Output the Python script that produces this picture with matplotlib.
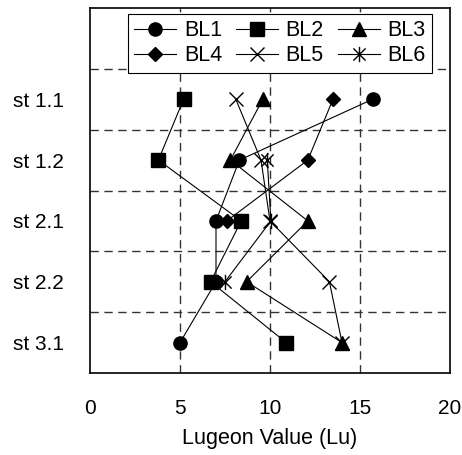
import numpy as np
import matplotlib
matplotlib.use("Agg")
import matplotlib.pyplot as plt
from matplotlib.path import Path

plt.rcParams['font.family'] = ['Liberation Sans', 'DejaVu Sans']

# stages, top to bottom
stages = ["st 1.1", "st 1.2", "st 2.1", "st 2.2", "st 3.1"]
bl1 = [15.7, 8.3, 7.0, 7.0, 5.0]
bl2 = [5.2, 3.8, 8.4, 6.7, 10.9]
bl3 = [9.6, 7.8, 12.1, 8.7, 14.0]
bl4 = [13.5, 12.1, 7.6, np.nan, np.nan]
bl5 = [8.1, 9.5, 10.0, 13.3, 14.0]
bl6 = [np.nan, 9.85, 10.05, 7.5, np.nan]
names = ["BL1", "BL2", "BL3", "BL4", "BL5", "BL6"]
x_ticks = [0, 5, 10, 15, 20]

# asterisk: X plus a vertical bar
star = Path([(-1, -1), (1, 1), (-1, 1), (1, -1), (0, -1.25), (0, 1.25)],
            [Path.MOVETO, Path.LINETO, Path.MOVETO, Path.LINETO, Path.MOVETO, Path.LINETO])

styles = [
    dict(marker="o", ms=9.5),
    dict(marker="s", ms=9.5),
    dict(marker="^", ms=10.5),
    dict(marker="D", ms=7.5),
    dict(marker="x", ms=10, mew=1.0),
    dict(marker=star, ms=11, mew=1.0),
]

fig = plt.figure(figsize=(4.62, 4.55), dpi=100)
ax = fig.add_axes([90 / 462, 1 - 373 / 455, 360 / 462, 365 / 455])

y = np.arange(1, len(stages) + 1)
handles = []
for name, vals, st in zip(names, [bl1, bl2, bl3, bl4, bl5, bl6], styles):
    vals = np.array(vals, dtype=float)
    m = ~np.isnan(vals)
    h, = ax.plot(vals[m], y[m], color="black", lw=0.8, mfc="black", mec="black",
                 label=name, **st)
    handles.append(h)

ax.set_xlim(0, 20)
ax.set_ylim(5.5, -0.5)
ax.set_xticks(x_ticks)
ax.set_yticks(y)
ax.set_yticklabels(stages)
ax.tick_params(axis="both", which="both", length=0, labelsize=15)
ax.tick_params(axis="x", pad=19)
ax.tick_params(axis="y", pad=19)

dash = (0, (6, 4))
for xv in [5, 10, 15]:
    ax.axvline(xv, color="#333333", lw=1.0, ls=dash, zorder=0)
for yv in np.arange(0.5, 5.0, 1.0):
    ax.axhline(yv, color="#333333", lw=1.0, ls=dash, zorder=0)

for s in ax.spines.values():
    s.set_linewidth(1.2)

ax.set_xlabel("Lugeon Value (Lu)", fontsize=15.5, labelpad=7)

order = [0, 3, 1, 4, 2, 5]
leg = ax.legend([handles[i] for i in order], [names[i] for i in order],
                ncol=3, loc="upper left",
                bbox_to_anchor=((128 - 90) / 360, (373 - 14) / 365),
                fontsize=15.5, frameon=True, fancybox=False, framealpha=1,
                edgecolor="black", handlelength=1.95, handletextpad=0.35,
                columnspacing=0.65, labelspacing=0.18, borderpad=0.3,
                borderaxespad=0)
leg.get_frame().set_linewidth(0.8)

fig.savefig("out.png", dpi=100, facecolor="white")
